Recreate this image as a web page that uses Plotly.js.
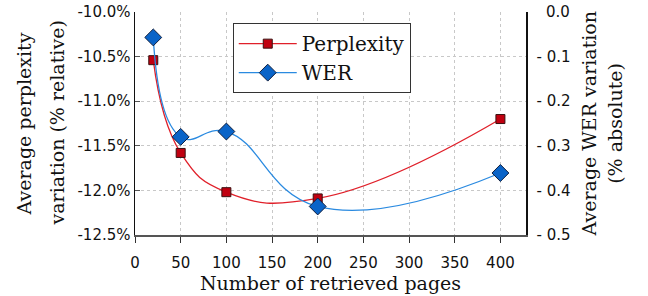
<!DOCTYPE html>
<html>
<head>
<meta charset="utf-8">
<script src="https://cdn.plot.ly/plotly-3.0.1.min.js"></script>
<style>html,body{margin:0;padding:0;background:#fff;}#chart{width:648px;height:296px;}</style>
</head>
<body>
<div id="chart"></div>
<script>
const pages = [20, 50, 100, 200, 400];
const perplexity = [-10.54, -11.58, -12.02, -12.09, -11.20];
const wer = [-0.057, -0.28, -0.268, -0.436, -0.361];
const leftTickVals = [-12.5, -12.0, -11.5, -11.0, -10.5, -10.0];
const leftTickText = ["-12.5%", "-12.0%", "-11.5%", "-11.0%", "-10.5%", "-10.0%"];
const rightTickVals = [-0.5, -0.4, -0.3, -0.2, -0.1, 0.0];
const rightTickText = ["-\u00a00.5", "-\u00a00.4", "-\u00a00.3", "-\u00a00.2", "-\u00a00.1", "\u00a0\u00a00.0"];
const xTickVals = [0, 50, 100, 150, 200, 250, 300, 350, 400];
const leftTitleLines = ["Average perplexity", "variation (% relative)"];
const rightTitleLines = ["Average WER variation", "(% absolute)"];

const serif = "DejaVu Serif, serif";
const sans = "DejaVu Sans, sans-serif";

const traces = [
  {
    x: pages, y: perplexity, name: "Perplexity", yaxis: "y",
    mode: "lines+markers",
    line: {color: "#e0202a", width: 1.3, shape: "spline", smoothing: 1.3},
    marker: {symbol: "square", size: 9, color: "#c00010", line: {color: "#3a1010", width: 1}}
  },
  {
    x: pages, y: wer, name: "WER", yaxis: "y2",
    mode: "lines+markers",
    line: {color: "#2a8ae0", width: 1.3, shape: "spline", smoothing: 1.3},
    marker: {symbol: "diamond", size: 13, color: "#0a64c8", line: {color: "#102040", width: 1}}
  }
];

const titleFont = {family: serif, size: 19, color: "#111"};
const annotations = [
  {text: leftTitleLines[0], x: -0.284, y: 0.5, textangle: -90},
  {text: leftTitleLines[1], x: -0.202, y: 0.5, textangle: -90},
  {text: rightTitleLines[0], x: 1.161, y: 0.5, textangle: -90},
  {text: rightTitleLines[1], x: 1.226, y: 0.5, textangle: -90}
].map(a => Object.assign(a, {xref: "paper", yref: "paper", xanchor: "center", yanchor: "middle", showarrow: false, font: titleFont}));

const layout = {
  width: 648, height: 296,
  margin: {l: 135, r: 122, t: 12, b: 61},
  paper_bgcolor: "#fff", plot_bgcolor: "#fff",
  showlegend: true,
  annotations: annotations,
  legend: {
    x: 0.25, y: 0.95, xanchor: "left", yanchor: "top",
    bgcolor: "#fff", bordercolor: "#333", borderwidth: 1,
    font: {family: serif, size: 20, color: "#111"},
    tracegroupgap: 0, itemwidth: 58
  },
  xaxis: {
    range: [0, 428], tickvals: xTickVals,
    showgrid: true, gridcolor: "#c8c8c8", griddash: "dot", gridwidth: 1,
    showline: true, linecolor: "#555", linewidth: 2,
    ticks: "outside", ticklen: 6, tickcolor: "#333",
    ticklabelstandoff: 7,
    zeroline: false,
    tickfont: {family: sans, size: 15, color: "#111"},
    title: {text: "Number of retrieved pages", font: titleFont, standoff: 3}
  },
  yaxis: {
    range: [-12.5, -10.0], tickvals: leftTickVals, ticktext: leftTickText,
    showgrid: true, gridcolor: "#c8c8c8", griddash: "dot", gridwidth: 1,
    showline: true, linecolor: "#111", linewidth: 1.5,
    ticks: "inside", ticklen: 5, tickcolor: "#555",
    zeroline: false,
    tickfont: {family: sans, size: 15, color: "#111"}
  },
  yaxis2: {
    range: [-0.5, 0.0], tickvals: rightTickVals, ticktext: rightTickText,
    overlaying: "y", side: "right",
    showgrid: false, zeroline: false,
    showline: true, linecolor: "#111", linewidth: 1.5,
    ticks: "outside", ticklen: 6, tickcolor: "rgba(0,0,0,0)",
    tickfont: {family: sans, size: 15, color: "#111"}
  }
};

Plotly.newPlot("chart", traces, layout, {displayModeBar: false, staticPlot: true});
</script>
</body>
</html>
